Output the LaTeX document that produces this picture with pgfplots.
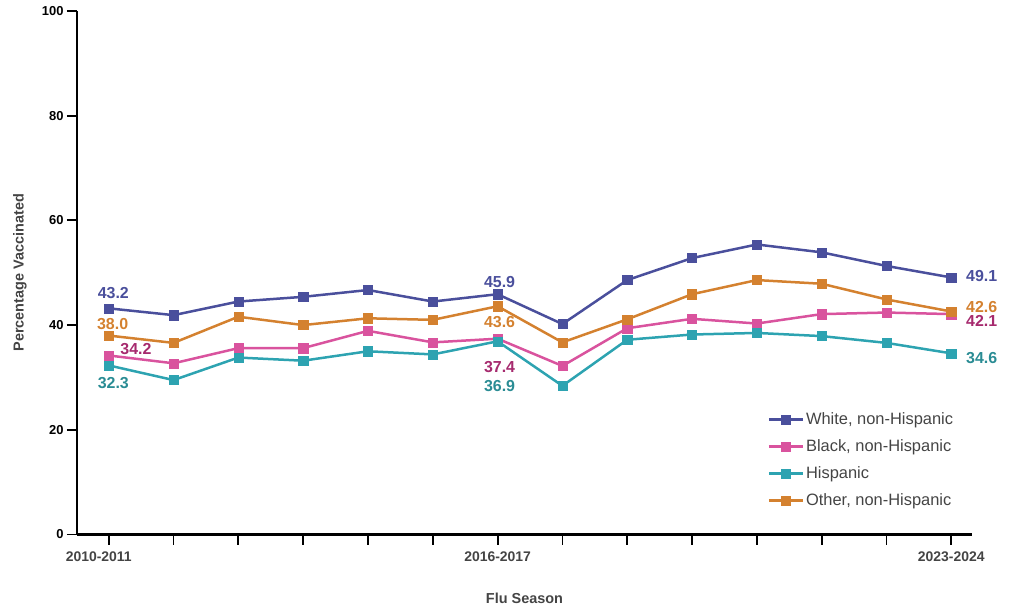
\documentclass[border=0pt]{standalone}
\usepackage{fontspec}
\setmainfont{Liberation Sans}
\usepackage{pgfplots}
\pgfplotsset{compat=1.18}
\definecolor{cwhite}{HTML}{4A4F9C}
\definecolor{cblack}{HTML}{D9539E}
\definecolor{chisp}{HTML}{2DA3B1}
\definecolor{cother}{HTML}{D4812F}
\definecolor{lblack}{HTML}{A62A6E}
\definecolor{lhisp}{HTML}{2A8C94}
\definecolor{txt}{HTML}{444444}
\begin{document}
\begin{tikzpicture}
\useasboundingbox (-77bp,-71.5bp) rectangle (946bp,534.5bp);
\begin{axis}[
    at={(0,0)}, anchor=south west,
    scale only axis, width=895bp, height=523.5bp,
    xmin=-0.49, xmax=13.32, ymin=0, ymax=100,
    axis x line*=bottom, axis y line*=left,
    axis line style={line width=2.4bp, black},
    tick align=outside, major tick length=10bp,
    every tick/.style={black, line width=1.8bp},
    xtick={0,...,13},
    xticklabels={\hspace*{-20bp}2010-2011,,,,,,2016-2017,,,,,,,2023-2024},
    ytick={0,20,...,100},
    /pgf/number format/assume math mode=true,
    x tick label style={font=\bfseries\fontsize{14}{16}\selectfont, text=txt, yshift=-4bp},
    y tick label style={font=\bfseries\fontsize{13}{15}\selectfont, text=black},
    xlabel={Flu Season}, ylabel={Percentage Vaccinated},
    label style={font=\bfseries\fontsize{14.5}{17}\selectfont, text=txt},
    xlabel style={at={(axis description cs:0.5,-0.1213)}, anchor=center},
    ylabel style={at={(axis description cs:-0.0637,0.5)}, anchor=center},
    legend style={at={(0.768,0.24)}, anchor=north west, draw=none, fill=none,
        font=\fontsize{16.5}{19}\selectfont, text=txt, row sep=9.5bp,
        cells={anchor=west}},
    legend image code/.code={\draw[mark repeat=2,mark phase=2,#1]
        plot coordinates {(0bp,0bp) (17bp,0bp) (34bp,0bp)};},
    every axis plot/.append style={line width=2.5bp, mark=square*, mark size=4.6bp,
        mark options={solid, line width=0.4bp}},
    clip=false,
]
% White, non-Hispanic
\addplot[cwhite] coordinates {
    (0,43.2) (1,41.9) (2,44.5) (3,45.4) (4,46.7) (5,44.5) (6,45.9)
    (7,40.2) (8,48.6) (9,52.8) (10,55.4) (11,53.9) (12,51.3) (13,49.1)
};
\addlegendentry{White, non-Hispanic}
% Black, non-Hispanic
\addplot[cblack] coordinates {
    (0,34.2) (1,32.7) (2,35.6) (3,35.6) (4,38.9) (5,36.7) (6,37.4)
    (7,32.2) (8,39.4) (9,41.2) (10,40.3) (11,42.1) (12,42.4) (13,42.1)
};
\addlegendentry{Black, non-Hispanic}
% Hispanic
\addplot[chisp] coordinates {
    (0,32.3) (1,29.5) (2,33.8) (3,33.2) (4,35.0) (5,34.4) (6,36.9)
    (7,28.4) (8,37.2) (9,38.2) (10,38.5) (11,37.9) (12,36.6) (13,34.6)
};
\addlegendentry{Hispanic}
% Other, non-Hispanic
\addplot[cother] coordinates {
    (0,38.0) (1,36.6) (2,41.6) (3,40.0) (4,41.3) (5,41.0) (6,43.6)
    (7,36.7) (8,41.1) (9,45.9) (10,48.6) (11,47.9) (12,44.9) (13,42.6)
};
\addlegendentry{Other, non-Hispanic}

\tikzset{lab/.style={font=\bfseries\fontsize{16}{19}\selectfont, inner sep=0pt}}
\node[lab, text=cwhite] at (axis cs:0.07,46.1) {43.2};
\node[lab, text=cother] at (axis cs:0.06,40.2) {38.0};
\node[lab, text=lblack] at (axis cs:0.42,35.4) {34.2};
\node[lab, text=lhisp] at (axis cs:0.07,29.0) {32.3};
\node[lab, text=cwhite] at (axis cs:6.03,48.3) {45.9};
\node[lab, text=cother] at (axis cs:6.03,40.65) {43.6};
\node[lab, text=lblack] at (axis cs:6.03,32.05) {37.4};
\node[lab, text=lhisp] at (axis cs:6.03,28.4) {36.9};
\node[lab, text=cwhite] at (axis cs:13.47,49.4) {49.1};
\node[lab, text=cother] at (axis cs:13.47,43.4) {42.6};
\node[lab, text=lblack] at (axis cs:13.47,40.7) {42.1};
\node[lab, text=lhisp] at (axis cs:13.47,33.8) {34.6};
\end{axis}
\end{tikzpicture}
\end{document}
